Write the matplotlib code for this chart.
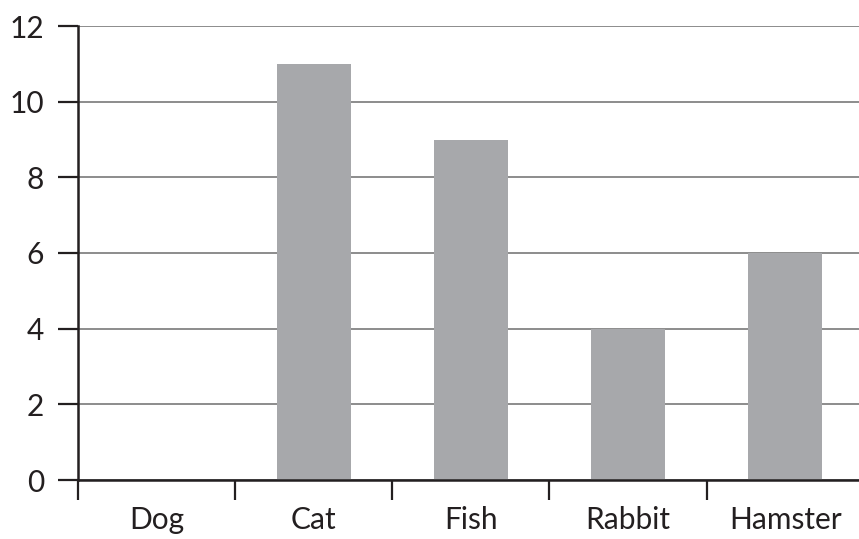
import numpy as np
import matplotlib
matplotlib.use("Agg")
import matplotlib.pyplot as plt

pets = ["Dog", "Cat", "Fish", "Rabbit", "Hamster"]
counts = [0, 11, 9, 4, 6]
yticks = [0, 2, 4, 6, 8, 10, 12]

plt.rcParams['font.family'] = ['Lato', 'DejaVu Sans']

fig = plt.figure(figsize=(8.59, 5.39), dpi=100)
ax = fig.add_axes([78 / 859, 59 / 539, 1 - 78 / 859, (480 - 26) / 539])

x = np.arange(len(pets))
ax.bar(x, counts, width=0.47, color="#a7a8ab", zorder=2)

ax.set_ylim(0, 12)
ax.set_xlim(-0.5, 4.47)
ax.set_yticks(yticks)
ax.yaxis.grid(True, color="#8c8c8c", linewidth=1.4, zorder=1)
ax.set_axisbelow(True)

# category names at the centres, tick marks on the boundaries
ax.set_xticks(x)
ax.set_xticklabels(pets)
ax.set_xticks(np.append(-0.5, x[:-1] + 0.5), minor=True)
ax.tick_params(axis="x", which="major", length=0, pad=19, labelsize=21.5, colors="#231f20")
ax.tick_params(axis="x", which="minor", length=14.4, width=1.6, direction="out", color="#231f20")
ax.tick_params(axis="y", length=14.4, width=1.6, pad=10, labelsize=21.5, colors="#231f20")

for s in ["top", "right"]:
    ax.spines[s].set_visible(False)
for s in ["left", "bottom"]:
    ax.spines[s].set_linewidth(1.8)
    ax.spines[s].set_color("#231f20")
    ax.spines[s].set_zorder(3)

plt.savefig("out.png", dpi=100)
plt.close()
